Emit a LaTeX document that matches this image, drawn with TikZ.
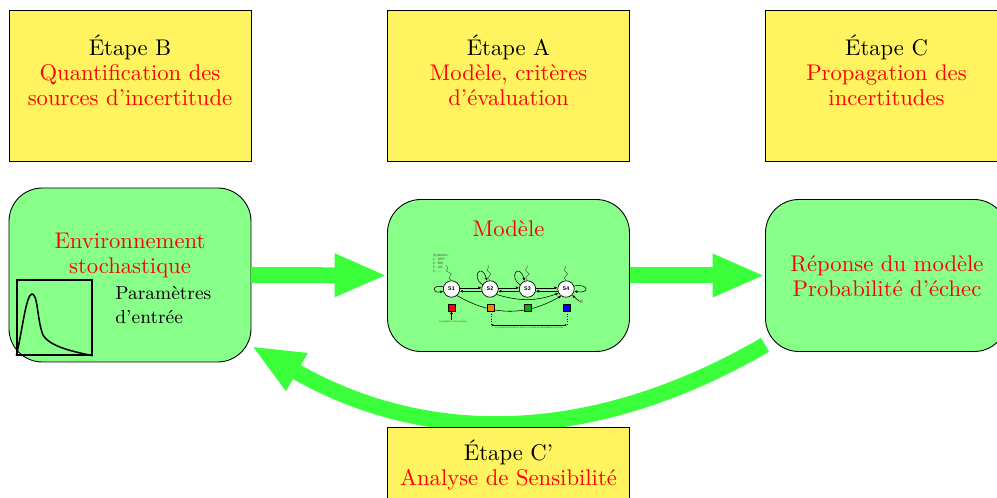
\documentclass[tikz,border=0pt]{standalone}
\usepackage{fontspec}
\usepackage{xcolor}
\usetikzlibrary{arrows.meta}
\usetikzlibrary{decorations.pathmorphing}
\newfontfamily\minifont{Liberation Sans}
\definecolor{etapeyellow}{HTML}{FFF45F}
\definecolor{boxgreen}{HTML}{88FF88}
\definecolor{fatgreen}{HTML}{3CFF3C}
\tikzset{
  every node/.style={font=\fontsize{10.2}{11.3}\selectfont},
  etape/.style={draw,fill=etapeyellow,minimum width=108.9pt,minimum height=67.8pt,align=center,inner sep=0pt},
  bloc/.style={draw,fill=boxgreen,minimum width=108.9pt,rounded corners=15pt,inner sep=0pt},
  rouge/.style={text=red,align=center},
  fatarrow/.style={draw=fatgreen,line width=7.2pt,-{Triangle[length=23.6pt,width=17.8pt]}},
  etat/.style={circle,draw,fill=white,minimum size=7.4pt,inner sep=0pt,line width=0.3pt,font=\fontsize{2.4}{3}\selectfont\minifont\bfseries},
  trans/.style={line width=0.25pt,-{Latex[length=1.4pt,width=1.3pt]}},
  carre/.style={draw,line width=0.2pt,minimum size=3pt,inner sep=0pt},
  minitxt/.style={font=\fontsize{1.1}{1.75}\selectfont\minifont,text=black!70,inner sep=0pt},
  zigzag/.style={line width=0.2pt,black!70,decorate,decoration={snake,segment length=3.6pt,amplitude=0.8pt}}
}
\begin{document}
\begin{tikzpicture}[x=0.45pt,y=0.45pt]
    \useasboundingbox (0,0) rectangle (997,498);
    % etapes du haut
    \node[etape] (etapeB) at (130,412.2) {\'Etape B\\\textcolor{red}{Quantification des}\\\textcolor{red}{sources d'incertitude}\\[2.7pt]~};
    \node[etape] (etapeA) at (508.5,412.2) {\'Etape A\\\textcolor{red}{Mod\`ele, crit\`eres}\\\textcolor{red}{d'\'evaluation}\\[2.7pt]~};
    \node[etape] (etapeC) at (886.5,412.2) {\'Etape C\\\textcolor{red}{Propagation des}\\\textcolor{red}{incertitudes}\\[2.7pt]~};
    % blocs verts
    \node[bloc,minimum height=78.3pt] (env) at (130,223) {};
    \node[bloc,minimum height=68.4pt] (modele) at (508.5,222.5) {};
    \node[bloc,minimum height=68.4pt] (reponse) at (886.5,222.5) {};
    \node[rouge] (envtxt) at (130,242.5) {Environnement\\stochastique};
    \node[rouge] (modtxt) at (508.5,269) {Mod\`ele};
    \node[rouge] (reptxt) at (887,222) {R\'eponse du mod\`ele\\Probabilit\'e d'\'echec};
    % densite
    \node[draw,line width=0.6pt,minimum size=33.8pt,inner sep=0pt] (densite) at (54.5,180.5) {};
    \draw[line width=0.7pt] (densite.south west)
      .. controls (22,165) and (26,204) .. (32,204)
      .. controls (38,204) and (37,178) .. (43,163)
      .. controls (50,151) and (75,146) .. (densite.south east);
    \node[anchor=west,inner sep=0pt,font=\fontsize{8.5}{9}\selectfont] (param) at (115,205) {Param\`etres};
    \node[anchor=west,inner sep=0pt,font=\fontsize{8.5}{9}\selectfont] (entree) at (115,181) {d'entr\'ee};
    % fleches
    \draw[fatarrow] (env) -- (modele);
    \draw[fatarrow] (modele) -- (reponse);
    \coordinate (depart) at ([yshift=3.2pt]reponse.south west);
    \coordinate (arrivee) at ([xshift=0pt,yshift=7.4pt]env.south east);
    \draw[fatarrow] (depart) to [bend left=30] (arrivee);
    \node[etape,minimum height=34.2pt] (etapeCp) at (508.5,33) {\'Etape C'\\\textcolor{red}{Analyse de Sensibilit\'e}};
    % petit modele
    \begin{scope}[shift={(451.5,209)}]
      \node[etat] (s1) at (0,0) {S1};
      \node[etat] (s2) at (38.5,0) {S2};
      \node[etat] (s3) at (76,0) {S3};
      \node[etat] (s4) at (114.5,0) {S4};
      \draw[trans] (s1.8) -- (s2.172);
      \draw[trans] (s2.8) -- (s3.172);
      \draw[trans] (s3.8) -- (s4.172);
      \draw[trans] (s2.-165) -- (s1.-15);
      \draw[trans] (s3.-165) -- (s2.-15);
      \draw[trans] (s4.-165) -- (s3.-15);
      \draw[trans] (s2.-40) to [bend right=18] (s4.-150);
      \draw[trans] (s1.-50) to [bend right=30] (s4.-125);
      \draw[trans] (s1.165) .. controls (-20,5) and (-20,-5) .. (s1.195);
      \draw[trans] (s2.150) .. controls (19,12) and (30,27) .. (s2.110);
      \draw[trans] (s3.150) .. controls (56.5,12) and (67.5,27) .. (s3.110);
      \draw[trans] (s4.20) .. controls (138,6) and (138,-5) .. (s4.-15);
      \coordinate (zz1) at (-5,24);
      \coordinate (zz2) at (36.5,24);
      \coordinate (zz3) at (75.5,24);
      \coordinate (zz4) at (114,23);
      \draw[zigzag] (s1.north) -- (zz1);
      \draw[zigzag] (s2.north) -- (zz2);
      \draw[zigzag] (s3.north) -- (zz3);
      \draw[zigzag] (s4.north) -- (zz4);
      \node[minitxt,font=\fontsize{1.5}{1.75}\selectfont\minifont,align=left,anchor=north west] (symb) at (-19,35) {Symboles :\\1 : DEP\\2 : BM\\3 : AG\\4 : \dots};
      \node[minitxt,font=\fontsize{2}{2}\selectfont\minifont,anchor=west] (rlabel) at (128,-12.5) {R};
      \draw[trans] (rlabel.west) -- (s4.-45);
      \node[carre,fill=red] (c1) at (0,-18.5) {};
      \node[carre,fill=orange] (c2) at (39.5,-18.5) {};
      \node[carre,fill=green!70!black] (c3) at (76.5,-18.5) {};
      \node[carre,fill=blue] (c4) at (115.5,-18.5) {};
      \node[minitxt] (panne) at (1.5,-32.5) {Le syst\`eme est en panne};
      \draw[trans] (panne.north -| c1) -- (c1);
      \draw[densely dotted,line width=0.15pt] (c2) -- ++(0,-17.5) coordinate (d2);
      \draw[densely dotted,line width=0.15pt] (c4) -- ++(0,-17.5) coordinate (d4);
      \draw[line width=0.2pt,{Latex[length=1pt,width=1pt]}-{Latex[length=1pt,width=1pt]}] (d2) -- (d4);
      \node[minitxt] (degrad) at (77.5,-38.5) {Le syst\`eme fonctionne avec un niveau de d\'egradation moindre};
    \end{scope}
  \end{tikzpicture}
\end{document}
